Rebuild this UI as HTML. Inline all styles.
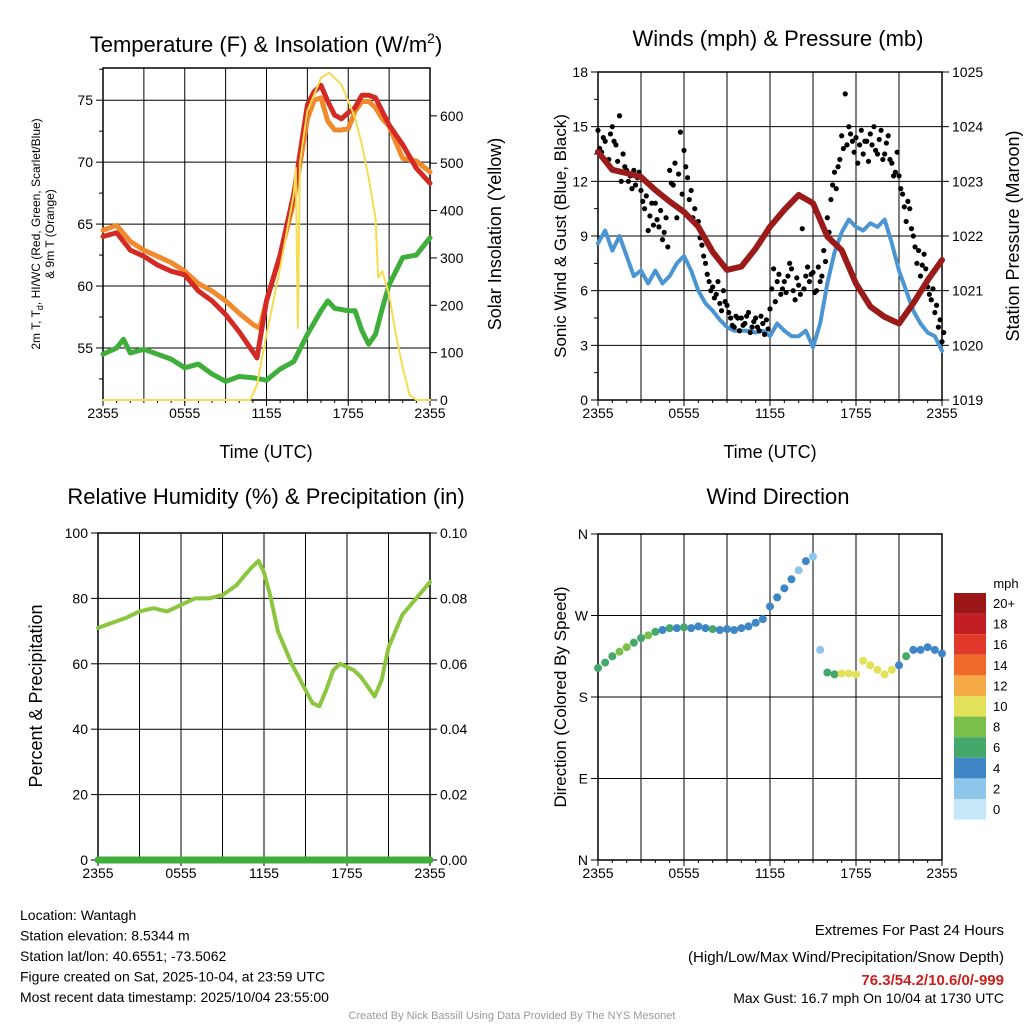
<!DOCTYPE html>
<html><head><meta charset="utf-8"><style>
body{margin:0;background:#fff;width:1024px;height:1024px;overflow:hidden;font-family:"Liberation Sans",sans-serif}
svg text{font-family:"Liberation Sans",sans-serif}
</style></head><body>
<svg id="s" width="1024" height="1024" xmlns="http://www.w3.org/2000/svg"></svg>
<script>
// ---- data ----
const tHrs = [0,1,2,3,4,5,6,7,8,9,10,11,11.3,12,13,14,15,15.5,16,16.5,17,17.5,18,18.5,19,19.5,20,20.5,21,22,23,24];
const tempRed = [64.0,64.3,62.9,62.4,61.7,61.2,60.9,59.6,58.8,57.7,56.3,54.7,54.2,58.8,62.5,67.4,74.6,75.7,76.2,74.9,73.8,73.5,74.0,74.4,75.4,75.4,75.2,74.1,73.0,71.4,69.5,68.3];
const oHrs = [0,1,2,3,4,5,6,7,8,9,10,11,11.5,12,13,14,15,15.5,16,16.5,17,17.5,18,18.5,19,19.5,20,20.5,21,22,23,24];
const temp9m = [64.5,64.9,63.6,62.9,62.4,61.9,61.2,60.2,59.6,58.8,57.8,56.9,56.6,58.8,62.5,66.8,73.5,75,75.2,73.3,72.6,72.6,72.7,74.1,74.9,74.9,74.4,73.5,72.9,70.3,70.1,69.2];
const gHrs = [0,1,1.5,2,3,4,5,6,7,8,9,10,11,12,13,14,15,16,16.5,17,18,18.5,19,19.5,20,20.5,21,22,23,24];
const dewGreen = [54.5,55.0,55.7,54.6,54.9,54.5,54.1,53.4,53.7,52.9,52.3,52.7,52.6,52.4,53.3,53.9,56.1,58,58.8,58.2,58,58,56.4,55.3,56.1,58.2,60.1,62.3,62.5,63.9];
const solarHrs = [0,10.8,11.3,12,13,14,14.15,14.3,14.45,15,16,16.6,17.5,18.5,19,19.5,20,20.2,20.5,21,21.5,22,22.5,23,24];
const solarVal = [0,0,32,138,279,434,490,152,500,610,680,691,666,596,539,469,384,258,272,222,138,68,11,0,0];
const halfHrs = [0,0.5,1,1.5,2,2.5,3,3.5,4,4.5,5,5.5,6,6.5,7,7.5,8,8.5,9,9.5,10,10.5,11,11.5,12,12.5,13,13.5,14,14.5,15,15.5,16,16.5,17,17.5,18,18.5,19,19.5,20,20.5,21,21.5,22,22.5,23,23.5,24];
const windSpd = [8.6,9.3,8.2,9.0,7.9,6.8,7.1,6.4,7.1,6.4,6.8,7.5,7.9,7.1,6.0,5.3,4.9,4.4,4.0,3.8,3.8,3.8,3.7,3.8,3.5,4.2,3.8,3.5,3.5,3.8,2.9,4.2,6.4,8.1,9.2,9.9,9.5,9.3,9.7,9.5,9.9,8.6,7.1,6.0,4.9,4.2,3.7,3.5,2.7];
const windGust = [14.8,13.6,14.2,13.2,15.0,14.0,15.6,13.5,12.6,12.3,12.6,12.2,11.5,10.5,9.3,10.8,10.8,9.5,8.8,10.0,12.6,11.8,10.0,14.7,13.7,12.2,11.5,10.5,9.8,8.5,7.5,6.5,6.2,5.8,5.3,6.0,5.2,4.5,4.0,4.5,4.5,4.2,4.8,4.0,4.5,3.8,4.2,4.4,5.0,7.2,6.5,5.8,6.5,6.8,7.2,5.5,6.3,9.4,6.8,6.5,7.0,6.0,6.5,8.2,10.0,11.0,12.5,12.8,14.5,16.8,15.0,14.2,14.4,14.0,13.5,14.2,14.6,15.0,13.5,14.8,13.5,14.5,13.0,12.5,12.3,11.3,9.8,10.5,9.0,7.5,6.8,8.0,6.2,5.5,4.8,4.0,3.2];
const gustAlt = [13.8,14.4,13.0,14.6,14.2,13.1,12.0,12.8,12.0,11.6,11.8,12.5,10.9,11.2,10.1,9.6,9.9,10.4,9.2,8.4,11.9,13.0,12.4,11.3,12.8,11.0,10.0,9.7,8.9,7.9,6.9,6.0,5.6,6.5,4.9,5.4,4.8,4.1,4.6,3.8,4.1,4.6,3.7,4.3,4.0,4.6,3.6,3.9,6.1,5.4,6.9,6.1,5.9,7.5,6.0,6.7,5.8,6.1,7.3,6.9,5.9,7.3,6.8,7.6,9.2,11.8,11.6,13.2,13.8,14.0,14.6,13.6,13.0,14.8,14.2,13.1,14.0,13.7,14.3,13.2,14.1,13.2,12.3,13.6,11.6,10.6,10.9,9.4,8.4,8.2,7.4,7.2,5.8,6.1,5.2,4.4,3.7];
const pressure = [1023.54,1023.21,1023.15,1023.08,1022.84,1022.63,1022.44,1022.17,1021.71,1021.38,1021.44,1021.77,1022.17,1022.48,1022.75,1022.6,1021.99,1021.74,1021.13,1020.71,1020.52,1020.40,1020.77,1021.19,1021.56];
const pHrs = [0,1,2,3,4,5,6,7,8,9,10,11,12,13,14,15,16,17,18,19,20,21,22,23,24];
const rhHrs = [0,1,2,3,4,5,6,7,8,9,10,11,11.6,12,12.5,13,14,15,15.5,16,16.5,17,17.5,18,18.5,19,19.5,20,20.5,21,22,23,24];
const rhVal = [71,72.5,74,76,77,76,78,80,80,81,84,89,91.5,88,80,70,60,52,48,47,52,58,60,59,58,56,53,50,55,65,75,80,85];
const dirDeg = [212,218,225,230,235,240,245,248,252,254,256,256,257,256,258,256,255,254,255,254,256,258,262,266,280,290,300,310,320,330,335,232,207,205,206,206,205,220,215,210,205,210,215,225,232,232,235,232,228];
const dirSpd = [6,6,6,7,7,6,6,7,6,4,6,4,5,4,4,4,5,4,4,3,4,4,3,4,3,3,3,3,2,3,2,2,5,6,10,10,10,10,9,10,10,10,4,5,4,4,4,4,4];
const cbLabels = ["20+","18","16","14","12","10","8","6","4","2","0"];
const cbColors = ["#9b1617","#c31e24","#e0392b","#ef6a2b","#f5a947","#e3e05a","#79bf4a","#44a86a","#3e86c5","#8cc6ea","#c6e8f8"];
// ---- helpers ----
const S=document.getElementById('s');const NS='http://www.w3.org/2000/svg';
function el(t,a,txt){const e=document.createElementNS(NS,t);for(const k in a)e.setAttribute(k,a[k]);if(txt!==undefined)e.textContent=txt;S.appendChild(e);return e;}
function txt(x,y,s,size,anchor,name,extra){const e=el('text',Object.assign({x:x,y:y,'font-size':size,'text-anchor':anchor||'middle',fill:'#000'},extra||{}),s);

return e;}
function panel(p){
 const {x0,x1,y0,y1}=p;
 for(let k=0;k<=8;k++){const x=x0+(x1-x0)*k/8;const g=el('line',{x1:x,x2:x,y1:y0,y2:y1,stroke:'#000','stroke-width':1});
  
  }
 ['2355','0555','1155','1755','2355'].forEach((l,i)=>{const x=x0+(x1-x0)*i/4;txt(x,y1+18,l,14,'middle','x-tick-label');
  el('line',{x1:x,x2:x,y1:y1,y2:y1+6,stroke:'#000'});});
 for(let k=0;k<=24;k++){const x=x0+(x1-x0)*k/24;el('line',{x1:x,x2:x,y1:y1,y2:y1+3,stroke:'#000'});}
 const f=el('rect',{x:x0,y:y0,width:x1-x0,height:y1-y0,fill:'none',stroke:'#000','stroke-width':1.5});
 
 
}
function yaxis(p,lo,hi,ticks,fmt,side,minor,grid){
 const sy=v=>p.y1-(v-lo)/(hi-lo)*(p.y1-p.y0);
 const ax=side==='l'?p.x0:p.x1;const d=side==='l'?-1:1;
 ticks.forEach(v=>{const y=sy(v);el('line',{x1:ax,x2:ax+d*7,y1:y,y2:y,stroke:'#000'});
  if(grid){const g=el('line',{x1:p.x0,x2:p.x1,y1:y,y2:y,stroke:'#000','stroke-width':1});
   
   }
  txt(ax+d*10,y+5,fmt(v),14,side==='l'?'end':'start',side==='l'?'left-tick-label':'right-tick-label');});
 (minor||[]).forEach(v=>{const y=sy(v);el('line',{x1:ax,x2:ax+d*4,y1:y,y2:y,stroke:'#000'});});
 return sy;
}
function line(pts,color,w,name){const e=el('polyline',{points:pts.map(p=>p.join(',')).join(' '),fill:'none',stroke:color,'stroke-width':w,'stroke-linejoin':'round','stroke-linecap':'round'});
 
 return e;}
// ---- Panel 1 ----
const P1={x0:103,x1:430,y0:68,y1:400};
const sx1=h=>P1.x0+h/24*(P1.x1-P1.x0);
panel(P1);
const ty=yaxis(P1,50.8,77.6,[55,60,65,70,75],v=>v,'l',[52.5,57.5,62.5,67.5,72.5,77.5],true);
const sy1r=yaxis(P1,0,701,[0,100,200,300,400,500,600],v=>v,'r',null,false);
line(gHrs.map((h,i)=>[sx1(h),ty(dewGreen[i])]),'#3fae3a',5,'dewpoint-line');
line(oHrs.map((h,i)=>[sx1(h),ty(temp9m[i])]),'#f08a2c',5,'temp-9m-line');
line(tHrs.map((h,i)=>[sx1(h),ty(tempRed[i])]),'#d42a25',5,'temp-2m-line');
line(solarHrs.map((h,i)=>[sx1(h),sy1r(solarVal[i])]),'#f6dc50',2,'solar-insolation-line');
txt(266,52,'Temperature (F) & Insolation (W/m',22,'middle','panel-title-temperature').innerHTML='Temperature (F) &amp; Insolation (W/m<tspan dy="-9" font-size="14">2</tspan><tspan dy="9">)</tspan>';
txt(266,458,'Time (UTC)',18,'middle','x-axis-title');
const yl=txt(0,0,'',12,'middle','y-axis-title-temperature',{transform:'translate(40,234) rotate(-90)'});
yl.innerHTML='2m T, T<tspan dy="3" font-size="9">d</tspan><tspan dy="-3">, HI/WC (Red, Green, Scarlet/Blue)</tspan><tspan x="0" dy="14">&amp; 9m T (Orange)</tspan>';
txt(0,0,'Solar Insolation (Yellow)',18,'middle','y-axis-title-solar',{transform:'translate(501,234) rotate(-90)'});
// ---- Panel 2 ----
const P2={x0:598,x1:942,y0:72,y1:400};
const sx2=h=>P2.x0+h/24*(P2.x1-P2.x0);
panel(P2);
const wy=yaxis(P2,0,18,[0,3,6,9,12,15,18],v=>v,'l',[1.5,4.5,7.5,10.5,13.5,16.5],true);
const py=yaxis(P2,1019,1025,[1019,1020,1021,1022,1023,1024,1025],v=>v,'r',null,false);
line(halfHrs.map((h,i)=>[sx2(h),wy(windSpd[i])]),'#4a95d2',4,'sonic-wind-line');
windGust.forEach((v,i)=>{const c=el('circle',{cx:sx2(i*0.25),cy:wy(v),r:2.6,fill:'#000'});
 
 });
gustAlt.forEach((v,i)=>{const c=el('circle',{cx:sx2(i*0.25+0.12),cy:wy(v),r:2.6,fill:'#000'});
 
 });
line(pHrs.map((h,i)=>[sx2(h),py(pressure[i])]),'#9b1b1b',6,'pressure-line');
txt(778,46,'Winds (mph) & Pressure (mb)',22,'middle','panel-title-winds');
txt(770,458,'Time (UTC)',18,'middle','x-axis-title');
txt(0,0,'Sonic Wind & Gust (Blue, Black)',17,'middle','y-axis-title-wind',{transform:'translate(566,236) rotate(-90)'});
txt(0,0,'Station Pressure (Maroon)',18,'middle','y-axis-title-pressure',{transform:'translate(1019,236) rotate(-90)'});
// ---- Panel 3 ----
const P3={x0:98,x1:430,y0:533,y1:860};
const sx3=h=>P3.x0+h/24*(P3.x1-P3.x0);
panel(P3);
const ry=yaxis(P3,0,100,[0,20,40,60,80,100],v=>v,'l',null,true);
yaxis(P3,0,0.1,[0,0.02,0.04,0.06,0.08,0.1],v=>v.toFixed(2),'r',null,false);
line(rhHrs.map((h,i)=>[sx3(h),ry(rhVal[i])]),'#8cc63e',4,'relative-humidity-line');
line([[sx3(0),ry(0)],[sx3(24),ry(0)]],'#3fae3a',7,'precipitation-line');
txt(266,504,'Relative Humidity (%) & Precipitation (in)',22,'middle','panel-title-humidity');
txt(0,0,'Percent & Precipitation',18,'middle','y-axis-title-humidity',{transform:'translate(42,696) rotate(-90)'});
// ---- Panel 4 ----
const P4={x0:598,x1:942,y0:534,y1:860};
const sx4=h=>P4.x0+h/24*(P4.x1-P4.x0);
panel(P4);
const dy=yaxis(P4,0,360,[0,90,180,270,360],v=>({0:'N',90:'E',180:'S',270:'W',360:'N'})[v],'l',null,true);
function spdColor(s){const i=Math.min(10,Math.floor(s/2+0.5));return cbColors[10-i];}
dirDeg.forEach((v,i)=>{const c=el('circle',{cx:sx4(halfHrs[i]),cy:dy(v),r:4,fill:spdColor(dirSpd[i])});
 
 });
txt(778,504,'Wind Direction',22,'middle','panel-title-direction');
txt(0,0,'Direction (Colored By Speed)',17,'middle','y-axis-title-direction',{transform:'translate(566,697) rotate(-90)'});
txt(1006,588,'mph',13,'middle','colorbar-unit');
cbColors.forEach((c,i)=>{const r=el('rect',{x:954,y:593+i*20.6,width:32,height:20.6,fill:c});
 
 
 txt(993,608+i*20.6,cbLabels[i],13,'start','colorbar-label');});
// ---- footer ----
['Location: Wantagh','Station elevation: 8.5344 m','Station lat/lon: 40.6551; -73.5062','Figure created on Sat, 2025-10-04, at 23:59 UTC','Most recent data timestamp: 2025/10/04 23:55:00'].forEach((s,i)=>txt(20,920+i*20.5,s,14,'start','station-info-line'));
txt(1004,935,'Extremes For Past 24 Hours',15,'end','extremes-title');
txt(1004,962,'(High/Low/Max Wind/Precipitation/Snow Depth)',15,'end','extremes-subtitle');
txt(1004,985,'76.3/54.2/10.6/0/-999',15,'end','extremes-values',{fill:'#cc1f1f','font-weight':'bold'});
txt(1004,1003,'Max Gust: 16.7 mph On 10/04 at 1730 UTC',14,'end','max-gust');
txt(512,1019,'Created By Nick Bassill Using Data Provided By The NYS Mesonet',11,'middle','credit',{fill:'#999'});
</script>
</body></html>
